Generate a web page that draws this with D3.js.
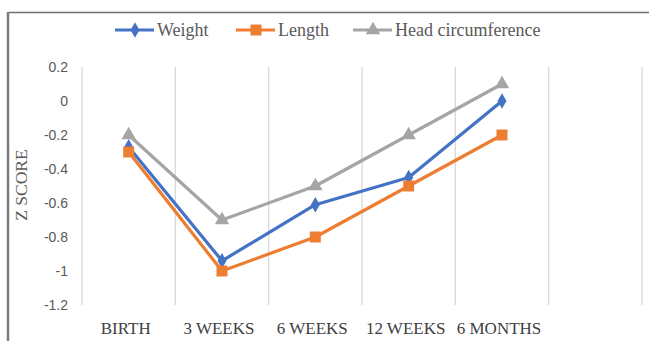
<!DOCTYPE html>
<html>
<head>
<meta charset="utf-8">
<script src="https://cdn.jsdelivr.net/npm/d3@7"></script>
<style>
  html, body { margin: 0; padding: 0; background: #fff; }
  svg { display: block; }
</style>
</head>
<body>
<svg id="chart" width="649" height="341"></svg>
<script>
// Time points (the last band is left empty)
const categories = ["BIRTH", "3 WEEKS", "6 WEEKS", "12 WEEKS", "6 MONTHS", ""];
// Z scores per series
const weight = [-0.27, -0.94, -0.61, -0.45, 0.0];
const length = [-0.30, -1.00, -0.80, -0.50, -0.20];
const headCirc = [-0.20, -0.70, -0.50, -0.20, 0.10];
const yTicks = [0.2, 0, -0.2, -0.4, -0.6, -0.8, -1, -1.2];
const seriesNames = ["Weight", "Length", "Head circumference"];

const SERIF = '"Liberation Serif", "Times New Roman", serif';
const SANS = '"Liberation Sans", Arial, sans-serif';

const series = [
  { name: seriesNames[0], values: weight, color: "#4472C4", symbol: d3.symbolDiamond, size: 70 },
  { name: seriesNames[1], values: length, color: "#ED7D31", symbol: d3.symbolSquare, size: 120 },
  { name: seriesNames[2], values: headCirc, color: "#A5A5A5", symbol: d3.symbolTriangle, size: 90 }
];

const svg = d3.select("#chart");
const plot = { left: 82, right: 642, top: 67, bottom: 305 };

const x = d3.scaleBand().domain(categories.map((c, i) => i)).range([plot.left, plot.right]).padding(0);
const y = d3.scaleLinear().domain([-1.2, 0.2]).range([plot.bottom, plot.top]);
const cx = i => x(i) + x.bandwidth() / 2;

// Chart frame (top and left edges)
svg.append("line").attr("x1", 8).attr("x2", 649).attr("y1", 12.5).attr("y2", 12.5)
  .attr("stroke", "#6f6f6f").attr("stroke-width", 1.5);
svg.append("line").attr("x1", 8).attr("x2", 8).attr("y1", 12).attr("y2", 341)
  .attr("stroke", "#7a7a7a").attr("stroke-width", 2.5);

// Vertical gridlines at band edges
const edges = d3.range(categories.length + 1).map(i => i < categories.length ? x(i) : plot.right);
svg.append("g").selectAll("line").data(edges).join("line")
  .attr("x1", d => d).attr("x2", d => d)
  .attr("y1", plot.top).attr("y2", plot.bottom)
  .attr("stroke", "#d9d9d9").attr("stroke-width", 1.3);

// Y axis labels
const yAxis = d3.axisLeft(y).tickValues(yTicks).tickSize(0).tickPadding(0)
  .tickFormat(d => d3.format("~g")(d).replace("−", "-"));
const yg = svg.append("g").attr("transform", `translate(${plot.left - 14},0)`).call(yAxis);
yg.select(".domain").remove();
yg.selectAll("text")
  .style("font-family", SANS).style("font-size", "14px").attr("fill", "#595959");

// X axis labels
const xAxis = d3.axisBottom(x).tickSize(0).tickPadding(0).tickFormat(i => categories[i]);
const xg = svg.append("g").attr("transform", `translate(-3,322)`).call(xAxis);
xg.select(".domain").remove();
xg.selectAll("text")
  .style("font-family", SERIF).style("font-size", "17px").attr("fill", "#404040");

// Y axis title
svg.append("text")
  .attr("transform", `translate(27,185) rotate(-90)`)
  .attr("text-anchor", "middle")
  .style("font-family", SERIF).style("font-size", "17.5px").attr("fill", "#595959")
  .text("Z SCORE");

// Series lines and markers
const line = d3.line().x((d, i) => cx(i)).y(d => y(d));
series.forEach(s => {
  const g = svg.append("g");
  g.append("path").datum(s.values).attr("d", line)
    .attr("fill", "none").attr("stroke", s.color).attr("stroke-width", 3.2)
    .attr("stroke-linejoin", "round");
  g.selectAll("path.m").data(s.values).join("path").attr("class", "m")
    .attr("transform", (d, i) => `translate(${cx(i)},${y(d)})`)
    .attr("d", d3.symbol().type(s.symbol).size(s.size))
    .attr("fill", s.color);
});

// Legend
const legendX = [115, 236, 353];
const leg = svg.append("g");
series.forEach((s, i) => {
  const g = leg.append("g").attr("transform", `translate(${legendX[i]},30)`);
  g.append("line").attr("x1", 0).attr("x2", 39).attr("stroke", s.color).attr("stroke-width", 3.2);
  g.append("path").attr("transform", "translate(20,0)")
    .attr("d", d3.symbol().type(s.symbol).size(s.size)).attr("fill", s.color);
  g.append("text").attr("x", 42).attr("y", 0).attr("dy", "0.35em")
    .style("font-family", SERIF).style("font-size", "18px").attr("fill", "#595959")
    .text(s.name);
});
</script>
</body>
</html>
